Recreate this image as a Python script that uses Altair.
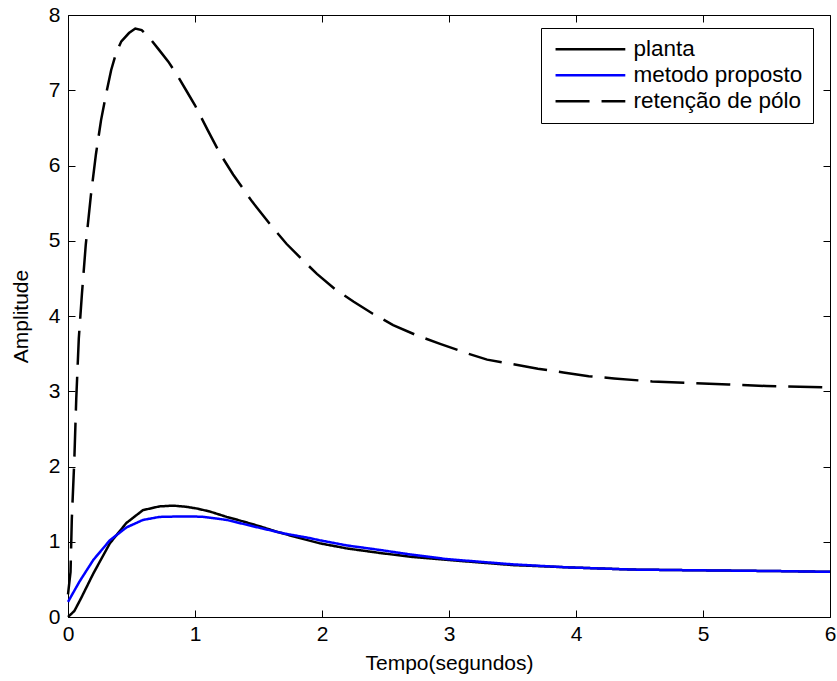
import altair as alt
import pandas as pd

series_names = ["planta", "metodo proposto", "retenção de pólo"]

t_planta = [0, 0.05, 0.1, 0.2, 0.33, 0.46, 0.59, 0.72, 0.83, 0.93, 1.02, 1.12, 1.25, 1.38, 1.52,
            1.65, 1.8, 1.98, 2.2, 2.46, 2.7, 2.98, 3.2, 3.5, 3.93, 4.45, 5.0, 5.6, 6.0]
v_planta = [0, 0.08, 0.24, 0.58, 0.98, 1.25, 1.42, 1.47, 1.48, 1.465, 1.44, 1.4, 1.33, 1.27, 1.2,
            1.13, 1.06, 0.98, 0.91, 0.85, 0.8, 0.76, 0.73, 0.69, 0.66, 0.63, 0.62, 0.61, 0.60]

t_metodo = [0, 0.09, 0.2, 0.33, 0.46, 0.59, 0.72, 0.85, 1.0, 1.07, 1.25, 1.52, 1.7, 1.9, 1.98,
            2.2, 2.46, 2.7, 2.98, 3.2, 3.5, 3.93, 4.45, 5.0, 5.6, 6.0]
v_metodo = [0.2, 0.47, 0.76, 1.02, 1.19, 1.29, 1.33, 1.335, 1.335, 1.33, 1.29, 1.18, 1.11, 1.05, 1.02,
            0.95, 0.89, 0.83, 0.77, 0.74, 0.7, 0.66, 0.63, 0.62, 0.61, 0.60]

t_retencao = [0, 0.02, 0.03, 0.05, 0.065, 0.085, 0.11, 0.14, 0.18, 0.22, 0.26, 0.3, 0.34, 0.38,
              0.42, 0.48, 0.53, 0.58, 0.65, 0.72, 0.79, 0.86, 0.93, 1.0, 1.1, 1.2, 1.3, 1.45,
              1.6, 1.72, 1.85, 1.96, 2.1, 2.25, 2.4, 2.56, 2.75, 2.93, 3.15, 3.3, 3.5, 3.7,
              3.9, 4.1, 4.3, 4.6, 4.9, 5.2, 5.5, 6.0]
v_retencao = [0.3, 0.6, 1.3, 2.1, 2.9, 3.7, 4.3, 4.95, 5.6, 6.15, 6.6, 6.95, 7.27, 7.5,
              7.65, 7.76, 7.82, 7.8, 7.68, 7.53, 7.38, 7.2, 7.0, 6.8, 6.47, 6.15, 5.88, 5.52,
              5.2, 4.96, 4.74, 4.56, 4.36, 4.19, 4.03, 3.88, 3.74, 3.63, 3.5, 3.42, 3.36, 3.3,
              3.25, 3.2, 3.17, 3.13, 3.11, 3.09, 3.07, 3.05]

x_ticks = [0, 1, 2, 3, 4, 5, 6]
y_ticks = [0, 1, 2, 3, 4, 5, 6, 7, 8]

rows = []
for name, ts, vs in zip(series_names, [t_planta, t_metodo, t_retencao], [v_planta, v_metodo, v_retencao]):
    for t, v in zip(ts, vs):
        rows.append({"serie": name, "t": t, "v": v})
df = pd.DataFrame(rows)

FONT = "Liberation Sans"
FS = 21

color_scale = alt.Scale(domain=series_names, range=["#000000", "#0000ff", "#000000"])
dash_scale = alt.Scale(domain=series_names, range=[[1, 0], [1, 0], [34, 12]])

legend = alt.Legend(
    title=None, orient="none", legendX=473, legendY=13,
    symbolType="M-1,0H9.4", symbolSize=180, symbolStrokeWidth=2.5,
    labelFont=FONT, labelFontSize=22.5, labelColor="black", labelOffset=60, labelLimit=400,
    strokeColor="black", fillColor="white", padding=10, rowPadding=3,
)

xscale = alt.Scale(domain=[0, 6], nice=False, zero=False)
yscale = alt.Scale(domain=[0, 8], nice=False, zero=False)

x_bottom = alt.Axis(values=x_ticks, orient="bottom", offset=-7, tickSize=7, domain=False, grid=False,
                    labelFont=FONT, labelFontSize=FS, labelColor="black", tickColor="black",
                    labelPadding=6, labelFlush=False, labelOverlap=False,
                    title="Tempo(segundos)", titleFont=FONT, titleFontSize=FS,
                    titleFontWeight="normal", titleColor="black", titlePadding=8)
y_left = alt.Axis(values=y_ticks, orient="left", offset=-7, tickSize=7, domain=False, grid=False,
                  labelFont=FONT, labelFontSize=FS, labelColor="black", tickColor="black",
                  labelPadding=8, labelFlush=False, labelOverlap=False,
                  title="Amplitude", titleFont=FONT, titleFontSize=FS,
                  titleFontWeight="normal", titleColor="black", titlePadding=17)
x_top = alt.Axis(values=x_ticks, orient="top", offset=-7, tickSize=7, domain=False, grid=False,
                 labels=False, title=None, tickColor="black")
y_right = alt.Axis(values=y_ticks, orient="right", offset=-7, tickSize=7, domain=False, grid=False,
                   labels=False, title=None, tickColor="black")

def series_layer(name, xaxis, yaxis):
    return alt.Chart(df).transform_filter(alt.datum.serie == name).mark_line(strokeWidth=2.5).encode(
        x=alt.X("t:Q", scale=xscale, axis=xaxis),
        y=alt.Y("v:Q", scale=yscale, axis=yaxis),
        color=alt.Color("serie:N", scale=color_scale, legend=legend, sort=series_names),
        strokeDash=alt.StrokeDash("serie:N", scale=dash_scale, legend=legend, sort=series_names),
    )

main = alt.layer(
    series_layer("planta", x_bottom, y_left),
    series_layer("metodo proposto", x_bottom, y_left),
    series_layer("retenção de pólo", x_bottom, y_left),
)

frame = alt.Chart(df).mark_line(opacity=0).encode(
    x=alt.X("t:Q", scale=xscale, axis=x_top),
    y=alt.Y("v:Q", scale=yscale, axis=y_right),
    detail="serie:N",
)

chart = alt.layer(main, frame).resolve_axis(x="independent", y="independent").properties(
    width=762, height=602,
    autosize=alt.AutoSizeParams(type="none"),
    padding={"left": 68, "top": 15, "right": 7, "bottom": 64},
    background="white",
).configure_view(stroke="black", strokeWidth=1)

chart.save("out.html", embed_options={"renderer": "svg", "actions": False})
